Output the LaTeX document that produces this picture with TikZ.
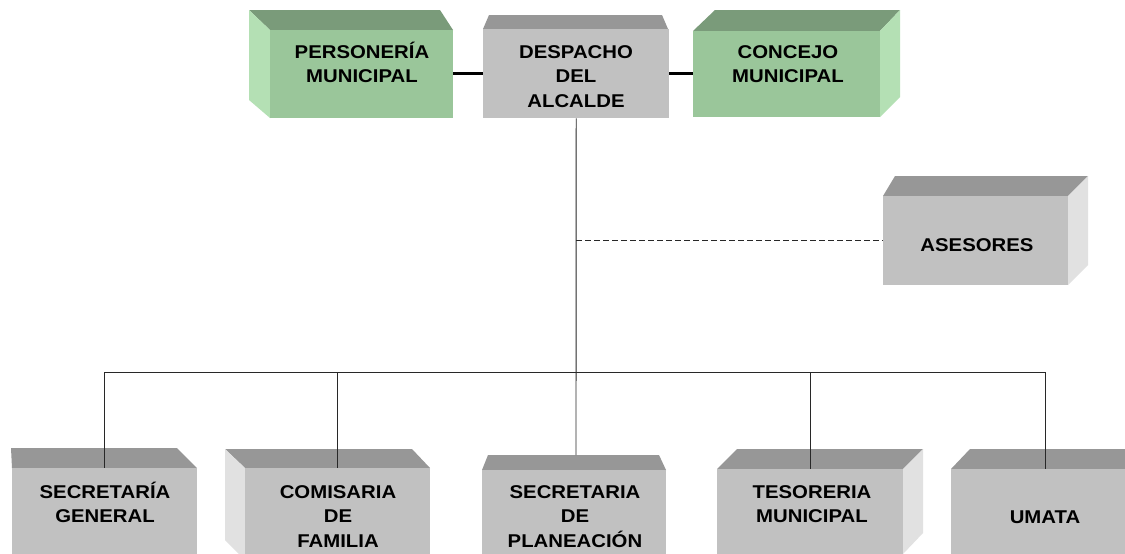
\documentclass[tikz,border=0pt]{standalone}
\usepackage{fontspec}
\setmainfont{Liberation Sans}[FakeStretch=1.1]
\definecolor{gfront}{RGB}{193,193,193}
\definecolor{gtop}{RGB}{151,151,151}
\definecolor{gside}{RGB}{225,225,225}
\definecolor{vfront}{RGB}{154,198,154}
\definecolor{vtop}{RGB}{122,155,122}
\definecolor{vside}{RGB}{180,224,180}
\definecolor{linec}{RGB}{40,40,40}
\tikzset{
  grayface/.style={fill=gfront, draw=none, inner sep=0pt, anchor=north west},
  greenface/.style={fill=vfront, draw=none, inner sep=0pt, anchor=north west},
  lbl/.style={inner sep=0pt, anchor=base, font=\fontsize{18.5}{24.7}\selectfont\bfseries},
  thinline/.style={draw=linec, line width=0.9pt},
  thickline/.style={draw=black, line width=2.6pt},
  dashline/.style={draw=linec, line width=0.9pt, dash pattern=on 6pt off 3pt},
}
\newcommand{\twol}[2]{\begin{tabular}[t]{@{}c@{}}#1\\#2\end{tabular}}
\newcommand{\threel}[3]{\begin{tabular}[t]{@{}c@{}}#1\\#2\\#3\end{tabular}}
\begin{document}
\begin{tikzpicture}[x=1pt,y=-1pt]
\useasboundingbox (0,0) rectangle (1125,554);
\clip (0,0) rectangle (1125,554);
\fill[white] (0,0) rectangle (1125,554);

% ---------- top row ----------
% Personeria
\fill[vtop] (249,10) -- (440,10) -- (453,30) -- (270,30) -- cycle;
\fill[vside] (249,10) -- (270,30) -- (270,118) -- (249,100) -- cycle;
\node[greenface, minimum width=183pt, minimum height=88pt] (pers) at (270,30) {};
% Despacho
\fill[gtop] (489,15) -- (662,15) -- (668,29) -- (483,29) -- cycle;
\node[grayface, minimum width=186pt, minimum height=89pt] (desp) at (483,29) {};
% Concejo
\fill[vtop] (715,10) -- (900,10) -- (880,31) -- (693,31) -- cycle;
\fill[vside] (900,10) -- (900,97) -- (880,117) -- (880,31) -- cycle;
\node[greenface, minimum width=187pt, minimum height=86pt] (conc) at (693,31) {};

% ---------- asesores ----------
\fill[gtop] (895,176) -- (1088,176) -- (1068,196) -- (883,196) -- cycle;
\fill[gside] (1088,176) -- (1088,265) -- (1068,285) -- (1068,196) -- cycle;
\node[grayface, minimum width=185pt, minimum height=89pt] (ases) at (883,196) {};

% ---------- bottom row ----------
% Secretaria general
\fill[gtop] (11,448) -- (177,448) -- (197,468) -- (12,468) -- cycle;
\node[grayface, minimum width=185pt, minimum height=90pt] (secg) at (12,468) {};
% Comisaria
\fill[gtop] (225,449) -- (412,449) -- (430,468) -- (245,468) -- cycle;
\fill[gside] (225,449) -- (245,468) -- (245,560) -- (225,540) -- cycle;
\node[grayface, minimum width=185pt, minimum height=90pt] (comi) at (245,468) {};
% Planeacion
\fill[gtop] (488,455) -- (659,455) -- (666,470) -- (482,470) -- cycle;
\node[grayface, minimum width=184pt, minimum height=90pt] (plan) at (482,470) {};
\coordinate (plantop) at (576,455);
% Tesoreria
\fill[gtop] (737,449) -- (923,449) -- (903,469) -- (717,469) -- cycle;
\fill[gside] (923,449) -- (923,533) -- (903,554) -- (903,469) -- cycle;
\node[grayface, minimum width=186pt, minimum height=90pt] (teso) at (717,469) {};
% UMATA
\fill[gtop] (970,449) -- (1160,449) -- (1140,469) -- (951,469) -- cycle;
\node[grayface, minimum width=189pt, minimum height=90pt] (umat) at (951,469) {};

% ---------- connectors ----------
\coordinate (bus) at (576,372);
\draw[thickline] (pers.east |- desp.west) -- (desp.west);
\draw[thickline] (desp.east) -- (conc.west |- desp.east);
\draw[thinline] (desp.south) -- (plantop);
\draw[dashline] (desp.south |- ases.west) -- (ases.west);
\draw[thinline] (secg.north |- bus) -- (umat.north |- bus);
\draw[thinline] (secg.north |- bus) -- (secg.north);
\draw[thinline] (comi.north |- bus) -- (comi.north);
\draw[thinline] (teso.north |- bus) -- (teso.north);
\draw[thinline] (umat.north |- bus) -- (umat.north);

% ---------- labels ----------
\node[lbl] (pers-t) at (362,58) {\twol{PERSONERÍA}{MUNICIPAL}};
\node[lbl] (desp-t) at (576,58) {\threel{DESPACHO}{DEL}{ALCALDE}};
\node[lbl] (conc-t) at (788,58) {\twol{CONCEJO}{MUNICIPAL}};
\node[lbl] (ases-t) at (977,251) {ASESORES};
\node[lbl] (secg-t) at (105,498) {\twol{SECRETARÍA}{GENERAL}};
\node[lbl] (comi-t) at (338,498) {\threel{COMISARIA}{DE}{FAMILIA}};
\node[lbl] (plan-t) at (575,498) {\threel{SECRETARIA}{DE}{PLANEACIÓN}};
\node[lbl] (teso-t) at (812,498) {\twol{TESORERIA}{MUNICIPAL}};
\node[lbl] (umat-t) at (1045,523) {UMATA};
\end{tikzpicture}
\end{document}
